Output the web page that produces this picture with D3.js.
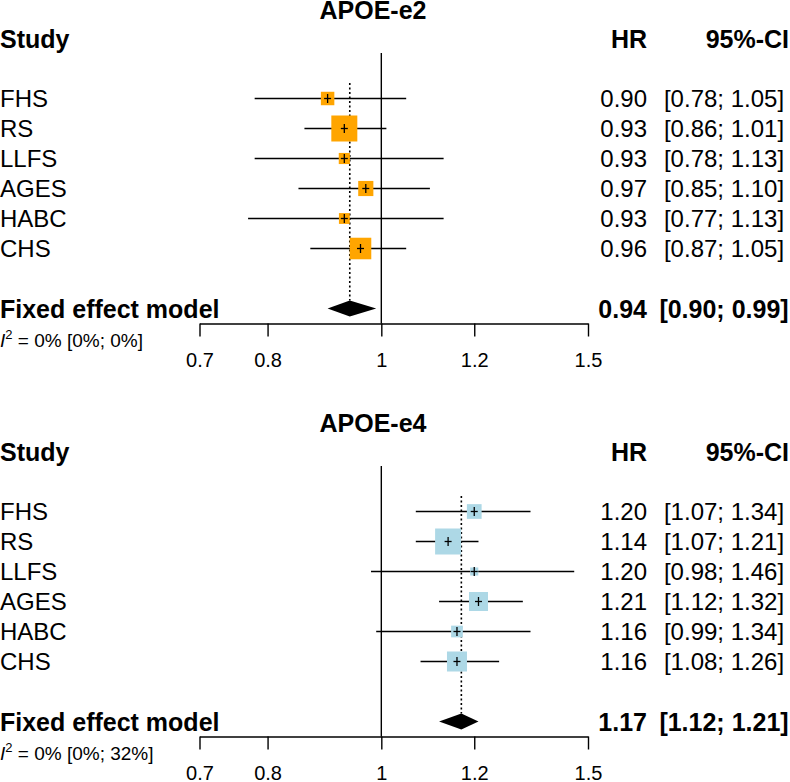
<!DOCTYPE html>
<html>
<head>
<meta charset="utf-8">
<script src="https://cdn.jsdelivr.net/npm/d3@7"></script>
<style>
    body { margin: 0; background: #fff; }
    svg { display: block; font-family: "Liberation Sans", Arial, sans-serif; }
</style>
</head>
<body>
<div id="chart"></div>
<script>
// study labels, shared by both panels
var studies = ['FHS', 'RS', 'LLFS', 'AGES', 'HABC', 'CHS'];

// APOE-e2
var e2Hr = [0.90, 0.93, 0.93, 0.97, 0.93, 0.96],
    e2Lower = [0.78, 0.86, 0.78, 0.85, 0.77, 0.87],
    e2Upper = [1.05, 1.01, 1.13, 1.10, 1.13, 1.05],
    e2Weight = [10.1, 37.7, 6.9, 12.8, 6.5, 25.9],
    e2Pooled = [0.94, 0.90, 0.99],
    e2Het = ['0%', '0%', '0%'];

// APOE-e4
var e4Hr = [1.20, 1.14, 1.20, 1.21, 1.16, 1.16],
    e4Lower = [1.07, 1.07, 0.98, 1.12, 0.99, 1.08],
    e4Upper = [1.34, 1.21, 1.46, 1.32, 1.34, 1.26],
    e4Weight = [11.7, 36.5, 3.5, 19.5, 7.4, 21.6],
    e4Pooled = [1.17, 1.12, 1.21],
    e4Het = ['0%', '0%', '32%'];

var tickValues = [0.7, 0.8, 1, 1.2, 1.5];

var width = 790,
    height = 782,
    panelGap = 413,
    rowH = 30,
    firstRow = 98.5,
    hrRight = 647,
    ciCenter = 724,
    ciHeadRight = 789,
    maxSide = 26;

var svg = d3.select('#chart')
    .append('svg')
    .attr('width', width)
    .attr('height', height);

var x = d3.scaleLog()
    .domain([0.7, 1.5])
    .range([199.5, 588]);

var fmt = d3.format('.2f');

function drawPanel(title, hr, lo, hi, w, pooled, het, color, oy) {
    var g = svg.append('g').attr('transform', 'translate(0,' + oy + ')');
    var rowY = function (i) { return firstRow + rowH * i; };
    var fixedY = rowY(7),
        axisY = 323.5;
    var maxW = d3.max(w);
    var side = function (i) { return Math.sqrt(w[i] / maxW) * maxSide; };

    g.append('text')
        .attr('x', 373).attr('y', 18.5)
        .attr('text-anchor', 'middle')
        .style('font-size', '25px').style('font-weight', 'bold')
        .text(title);

    // column headers
    var head = g.append('g').style('font-size', '25px').style('font-weight', 'bold');
    head.append('text').attr('x', 0).attr('y', 48).text('Study');
    head.append('text').attr('x', hrRight).attr('y', 48).attr('text-anchor', 'end').text('HR');
    head.append('text').attr('x', ciHeadRight).attr('y', 48).attr('text-anchor', 'end').text('95%-CI');

    // line of no effect
    g.append('line')
        .attr('x1', x(1)).attr('x2', x(1))
        .attr('y1', 53).attr('y2', axisY)
        .attr('stroke', '#000').attr('stroke-width', 1.4);

    // pooled estimate, dotted
    g.append('line')
        .attr('x1', x(pooled[0])).attr('x2', x(pooled[0]))
        .attr('y1', 83).attr('y2', fixedY - 8)
        .attr('stroke', '#000').attr('stroke-width', 1.6)
        .attr('stroke-dasharray', '2,2.5');

    var rows = g.selectAll('g.row')
        .data(studies)
        .enter()
        .append('g')
        .attr('class', 'row');

    rows.append('line')
        .attr('x1', function (d, i) { return x(lo[i]); })
        .attr('x2', function (d, i) { return x(hi[i]); })
        .attr('y1', function (d, i) { return rowY(i); })
        .attr('y2', function (d, i) { return rowY(i); })
        .attr('stroke', '#000').attr('stroke-width', 1.4);

    rows.append('rect')
        .attr('x', function (d, i) { return x(hr[i]) - side(i) / 2; })
        .attr('y', function (d, i) { return rowY(i) - side(i) / 2; })
        .attr('width', function (d, i) { return side(i); })
        .attr('height', function (d, i) { return side(i); })
        .attr('fill', color);

    // small cross at the estimate
    rows.append('line')
        .attr('x1', function (d, i) { return x(hr[i]); })
        .attr('x2', function (d, i) { return x(hr[i]); })
        .attr('y1', function (d, i) { return rowY(i) - 4.5; })
        .attr('y2', function (d, i) { return rowY(i) + 4.5; })
        .attr('stroke', '#000').attr('stroke-width', 1.3);
    rows.append('line')
        .attr('x1', function (d, i) { return x(hr[i]) - 3.5; })
        .attr('x2', function (d, i) { return x(hr[i]) + 3.5; })
        .attr('y1', function (d, i) { return rowY(i); })
        .attr('y2', function (d, i) { return rowY(i); })
        .attr('stroke', '#000').attr('stroke-width', 1.3);

    rows.append('text')
        .attr('x', 0)
        .attr('y', function (d, i) { return rowY(i) + 8.5; })
        .style('font-size', '24px')
        .text(function (d) { return d; });

    rows.append('text')
        .attr('x', hrRight)
        .attr('y', function (d, i) { return rowY(i) + 8.5; })
        .attr('text-anchor', 'end')
        .style('font-size', '24px')
        .text(function (d, i) { return fmt(hr[i]); });

    rows.append('text')
        .attr('x', ciCenter)
        .attr('y', function (d, i) { return rowY(i) + 8.5; })
        .attr('text-anchor', 'middle')
        .style('font-size', '24px')
        .text(function (d, i) { return '[' + fmt(lo[i]) + '; ' + fmt(hi[i]) + ']'; });

    // fixed effect diamond
    g.append('path')
        .attr('d', 'M' + x(pooled[1]) + ',' + fixedY +
            'L' + x(pooled[0]) + ',' + (fixedY - 8) +
            'L' + x(pooled[2]) + ',' + fixedY +
            'L' + x(pooled[0]) + ',' + (fixedY + 8) + 'Z')
        .attr('fill', '#000');

    var fixed = g.append('g').style('font-size', '25px').style('font-weight', 'bold');
    fixed.append('text').attr('x', 0).attr('y', fixedY + 9).text('Fixed effect model');
    fixed.append('text').attr('x', hrRight).attr('y', fixedY + 9)
        .attr('text-anchor', 'end').text(fmt(pooled[0]));
    fixed.append('text').attr('x', ciCenter).attr('y', fixedY + 9)
        .attr('text-anchor', 'middle').text('[' + fmt(pooled[1]) + '; ' + fmt(pooled[2]) + ']');

    // heterogeneity
    var hetText = g.append('text')
        .attr('x', 0).attr('y', axisY + 23.5)
        .style('font-size', '19px');
    hetText.append('tspan').style('font-style', 'italic').text('I');
    hetText.append('tspan').attr('dy', -8).style('font-size', '13px').text('2');
    hetText.append('tspan').attr('dy', 8)
        .text(' = ' + het[0] + ' [' + het[1] + '; ' + het[2] + ']');

    // x axis
    var axis = g.append('g')
        .attr('transform', 'translate(0,' + axisY + ')')
        .call(d3.axisBottom(x)
            .tickValues(tickValues)
            .tickFormat(function (d) { return String(d); })
            .tickSize(13)
            .tickSizeOuter(0)
            .tickPadding(16.3));
    axis.select('.domain').attr('stroke-width', 1.4);
    axis.selectAll('.tick line').attr('stroke-width', 1.4);
    axis.selectAll('.tick text')
        .style('font-size', '20px')
        .style('font-family', '"Liberation Sans", Arial, sans-serif');
}

drawPanel('APOE-e2', e2Hr, e2Lower, e2Upper, e2Weight, e2Pooled, e2Het, '#FFA500', 0);
drawPanel('APOE-e4', e4Hr, e4Lower, e4Upper, e4Weight, e4Pooled, e4Het, '#ADD8E6', panelGap);
</script>
</body>
</html>
